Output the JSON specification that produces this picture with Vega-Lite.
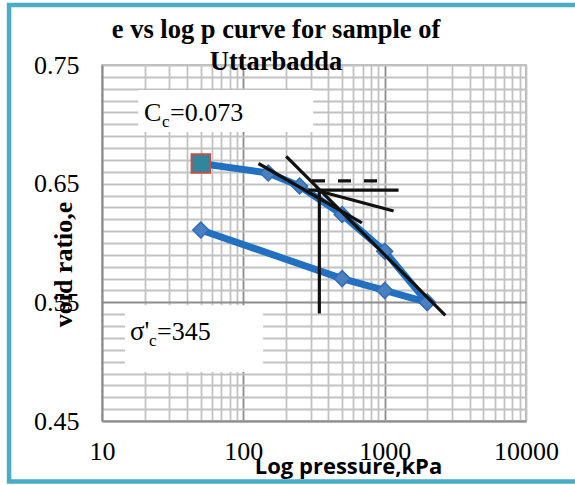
{
  "$schema": "https://vega.github.io/schema/vega-lite/v6.json",
  "width": 424,
  "height": 356,
  "autosize": {"type": "none"},
  "padding": {"left": 102, "top": 65, "right": 49, "bottom": 64},
  "background": "white",
  "config": {"view": {"stroke": "#a6a6a6", "strokeWidth": 1.5}},
  "datasets": {
    "consolidation": [
      {"branch": "loading", "step": 1, "p": 50, "e": 0.667},
      {"branch": "loading", "step": 2, "p": 150, "e": 0.659},
      {"branch": "loading", "step": 3, "p": 250, "e": 0.648},
      {"branch": "loading", "step": 4, "p": 500, "e": 0.624},
      {"branch": "loading", "step": 5, "p": 1000, "e": 0.593},
      {"branch": "loading", "step": 6, "p": 2000, "e": 0.55},
      {"branch": "unloading", "step": 1, "p": 2000, "e": 0.55},
      {"branch": "unloading", "step": 2, "p": 1000, "e": 0.56},
      {"branch": "unloading", "step": 3, "p": 500, "e": 0.57},
      {"branch": "unloading", "step": 4, "p": 50, "e": 0.611}
    ],
    "construction": [
      {"line": "tangent", "p": 128, "e": 0.667},
      {"line": "tangent", "p": 690, "e": 0.617},
      {"line": "virgin", "p": 201, "e": 0.673},
      {"line": "virgin", "p": 2686, "e": 0.539},
      {"line": "horizontal", "p": 289, "e": 0.6446},
      {"line": "horizontal", "p": 1254, "e": 0.6446},
      {"line": "bisector", "p": 322, "e": 0.6446},
      {"line": "bisector", "p": 1157, "e": 0.627},
      {"line": "preconsolidation", "p": 345, "e": 0.6446},
      {"line": "preconsolidation", "p": 345, "e": 0.5406},
      {"line": "reference", "p": 306, "e": 0.6524},
      {"line": "reference", "p": 931, "e": 0.6524}
    ]
  },
  "data": {"name": "consolidation"},
  "encoding": {
    "x": {
      "field": "p",
      "type": "quantitative",
      "scale": {"type": "log", "domain": [10, 10000]},
      "axis": {
        "values": [10, 20, 30, 40, 50, 60, 70, 80, 90, 100, 200, 300, 400, 500, 600, 700, 800, 900, 1000, 2000, 3000, 4000, 5000, 6000, 7000, 8000, 9000, 10000],
        "labelExpr": "indexof([10, 100, 1000, 10000], datum.value) >= 0 ? format(datum.value, 'd') : ''",
        "labelFont": "Liberation Serif",
        "labelFontSize": 26,
        "labelColor": "#000000",
        "labelPadding": 17,
        "labelFlush": false,
        "labelOverlap": false,
        "labelBaseline": "top",
        "ticks": false,
        "domainColor": "#8c8c8c",
        "domainWidth": 2,
        "grid": true,
        "gridColor": {"condition": {"test": "datum.value === 100 || datum.value === 1000", "value": "#8c8c8c"}, "value": "#c2c2c2"},
        "gridWidth": 1.8,
        "title": "Log pressure,kPa",
        "titleFont": "Open Sans",
        "titleFontWeight": "bold",
        "titleFontSize": 22,
        "titleColor": "#000000",
        "titleX": 246,
        "titleY": 52,
        "titleAlign": "center",
        "titleBaseline": "alphabetic"
      }
    },
    "y": {
      "field": "e",
      "type": "quantitative",
      "scale": {"domain": [0.45, 0.75], "zero": false, "nice": false},
      "axis": {
        "values": [0.45, 0.46, 0.47, 0.48, 0.49, 0.5, 0.51, 0.52, 0.53, 0.54, 0.55, 0.56, 0.57, 0.58, 0.59, 0.6, 0.61, 0.62, 0.63, 0.64, 0.65, 0.66, 0.67, 0.68, 0.69, 0.7, 0.71, 0.72, 0.73, 0.74, 0.75],
        "labelExpr": "indexof(['0.45', '0.55', '0.65', '0.75'], format(datum.value, '.2f')) >= 0 ? format(datum.value, '.2f') : ''",
        "labelFont": "Liberation Serif",
        "labelFontSize": 26,
        "labelColor": "#000000",
        "labelPadding": 23,
        "labelOverlap": false,
        "labelFlush": false,
        "ticks": false,
        "domainColor": "#8c8c8c",
        "domainWidth": 2,
        "grid": true,
        "gridColor": {"condition": {"test": "abs(datum.value - 0.55) < 0.001", "value": "#8c8c8c"}, "value": "#c2c2c2"},
        "gridWidth": 1.8,
        "title": "void ratio,e",
        "titleFont": "Liberation Serif",
        "titleFontWeight": "bold",
        "titleFontSize": 26,
        "titleColor": "#000000",
        "titleAngle": 270,
        "titleX": -38.5,
        "titleY": 199,
        "titleAlign": "center",
        "titleBaseline": "middle"
      }
    }
  },
  "layer": [
    {
      "transform": [{"filter": "datum.branch === 'loading' && datum.step === 1"}],
      "mark": {"type": "rect", "fill": "white", "fillOpacity": 0, "stroke": "#4bacc6", "strokeWidth": 4.5},
      "encoding": {
        "x": {"datum": 2.2, "type": "quantitative", "scale": {"type": "log", "domain": [10, 10000]}},
        "x2": {"datum": 24100},
        "y": {"datum": 0.8006, "type": "quantitative", "scale": {"domain": [0.45, 0.75], "zero": false, "nice": false}},
        "y2": {"datum": 0.399}
      }
    },
    {
      "transform": [{"filter": "datum.branch === 'loading' && datum.step === 1"}],
      "mark": {"type": "rect", "fill": "white"},
      "encoding": {
        "x": {"datum": 18.0, "type": "quantitative", "scale": {"type": "log", "domain": [10, 10000]}},
        "x2": {"datum": 312},
        "y": {"datum": 0.729, "type": "quantitative", "scale": {"domain": [0.45, 0.75], "zero": false, "nice": false}},
        "y2": {"datum": 0.6935}
      }
    },
    {
      "transform": [{"filter": "datum.branch === 'loading' && datum.step === 1"}],
      "mark": {"type": "rect", "fill": "white"},
      "encoding": {
        "x": {"datum": 14.55, "type": "quantitative", "scale": {"type": "log", "domain": [10, 10000]}},
        "x2": {"datum": 138},
        "y": {"datum": 0.5476, "type": "quantitative", "scale": {"domain": [0.45, 0.75], "zero": false, "nice": false}},
        "y2": {"datum": 0.4913}
      }
    },
    {
      "mark": {"type": "line", "color": "#2271c0", "strokeWidth": 7, "strokeJoin": "round", "strokeCap": "round"},
      "encoding": {"detail": {"field": "branch"}, "order": {"field": "step"}}
    },
    {
      "mark": {"type": "point", "shape": "diamond", "filled": true, "size": 256, "fill": "#4a7fc1", "stroke": "#2f6db6", "strokeWidth": 1.5, "opacity": 1}
    },
    {
      "transform": [{"filter": "datum.branch === 'loading' && datum.step === 1"}],
      "mark": {"type": "point", "shape": "square", "filled": true, "size": 340, "fill": "#31859c", "stroke": "#c0504d", "strokeWidth": 2, "opacity": 1}
    },
    {
      "data": {"name": "construction"},
      "transform": [{"filter": "datum.line !== 'reference'"}],
      "mark": {"type": "line", "color": "#111111", "strokeWidth": 3.2},
      "encoding": {"detail": {"field": "line"}}
    },
    {
      "data": {"name": "construction"},
      "transform": [{"filter": "datum.line === 'reference'"}],
      "mark": {"type": "line", "color": "#111111", "strokeWidth": 3.2, "strokeDash": [13, 13]},
      "encoding": {"detail": {"field": "line"}}
    },
    {
      "transform": [{"filter": "datum.branch === 'loading' && datum.step === 1"}],
      "mark": {"type": "text", "text": "e vs log p curve for sample of", "font": "Liberation Serif", "fontSize": 26.5, "fontWeight": "bold", "align": "center", "baseline": "alphabetic", "color": "#000000"},
      "encoding": {
        "x": {"datum": 170.3, "type": "quantitative", "scale": {"type": "log", "domain": [10, 10000]}},
        "y": {"datum": 0.7728, "type": "quantitative", "scale": {"domain": [0.45, 0.75], "zero": false, "nice": false}}
      }
    },
    {
      "transform": [{"filter": "datum.branch === 'loading' && datum.step === 1"}],
      "mark": {"type": "text", "text": "Uttarbadda", "font": "Liberation Serif", "fontSize": 26.5, "fontWeight": "bold", "align": "center", "baseline": "alphabetic", "color": "#000000"},
      "encoding": {
        "x": {"datum": 170.3, "type": "quantitative", "scale": {"type": "log", "domain": [10, 10000]}},
        "y": {"datum": 0.7458, "type": "quantitative", "scale": {"domain": [0.45, 0.75], "zero": false, "nice": false}}
      }
    },
    {
      "transform": [{"filter": "datum.branch === 'loading' && datum.step === 1"}],
      "mark": {"type": "text", "text": "C", "font": "Liberation Serif", "fontSize": 26, "align": "left", "baseline": "alphabetic", "color": "#000000"},
      "encoding": {
        "x": {"datum": 19.84, "type": "quantitative", "scale": {"type": "log", "domain": [10, 10000]}},
        "y": {"datum": 0.7024, "type": "quantitative", "scale": {"domain": [0.45, 0.75], "zero": false, "nice": false}}
      }
    },
    {
      "transform": [{"filter": "datum.branch === 'loading' && datum.step === 1"}],
      "mark": {"type": "text", "text": "c", "font": "Liberation Serif", "fontSize": 17, "align": "left", "baseline": "alphabetic", "dx": 18, "dy": 6, "color": "#000000"},
      "encoding": {
        "x": {"datum": 19.84, "type": "quantitative", "scale": {"type": "log", "domain": [10, 10000]}},
        "y": {"datum": 0.7024, "type": "quantitative", "scale": {"domain": [0.45, 0.75], "zero": false, "nice": false}}
      }
    },
    {
      "transform": [{"filter": "datum.branch === 'loading' && datum.step === 1"}],
      "mark": {"type": "text", "text": "=0.073", "font": "Liberation Serif", "fontSize": 26, "align": "left", "baseline": "alphabetic", "dx": 26, "color": "#000000"},
      "encoding": {
        "x": {"datum": 19.84, "type": "quantitative", "scale": {"type": "log", "domain": [10, 10000]}},
        "y": {"datum": 0.7024, "type": "quantitative", "scale": {"domain": [0.45, 0.75], "zero": false, "nice": false}}
      }
    },
    {
      "transform": [{"filter": "datum.branch === 'loading' && datum.step === 1"}],
      "mark": {"type": "text", "text": "σ'", "font": "Liberation Serif", "fontSize": 27, "align": "left", "baseline": "alphabetic", "color": "#000000"},
      "encoding": {
        "x": {"datum": 15.78, "type": "quantitative", "scale": {"type": "log", "domain": [10, 10000]}},
        "y": {"datum": 0.5183, "type": "quantitative", "scale": {"domain": [0.45, 0.75], "zero": false, "nice": false}}
      }
    },
    {
      "transform": [{"filter": "datum.branch === 'loading' && datum.step === 1"}],
      "mark": {"type": "text", "text": "c", "font": "Liberation Serif", "fontSize": 17, "align": "left", "baseline": "alphabetic", "dx": 19, "dy": 6, "color": "#000000"},
      "encoding": {
        "x": {"datum": 15.78, "type": "quantitative", "scale": {"type": "log", "domain": [10, 10000]}},
        "y": {"datum": 0.5183, "type": "quantitative", "scale": {"domain": [0.45, 0.75], "zero": false, "nice": false}}
      }
    },
    {
      "transform": [{"filter": "datum.branch === 'loading' && datum.step === 1"}],
      "mark": {"type": "text", "text": "=345", "font": "Liberation Serif", "fontSize": 26, "align": "left", "baseline": "alphabetic", "dx": 27, "color": "#000000"},
      "encoding": {
        "x": {"datum": 15.78, "type": "quantitative", "scale": {"type": "log", "domain": [10, 10000]}},
        "y": {"datum": 0.5183, "type": "quantitative", "scale": {"domain": [0.45, 0.75], "zero": false, "nice": false}}
      }
    }
  ]
}
